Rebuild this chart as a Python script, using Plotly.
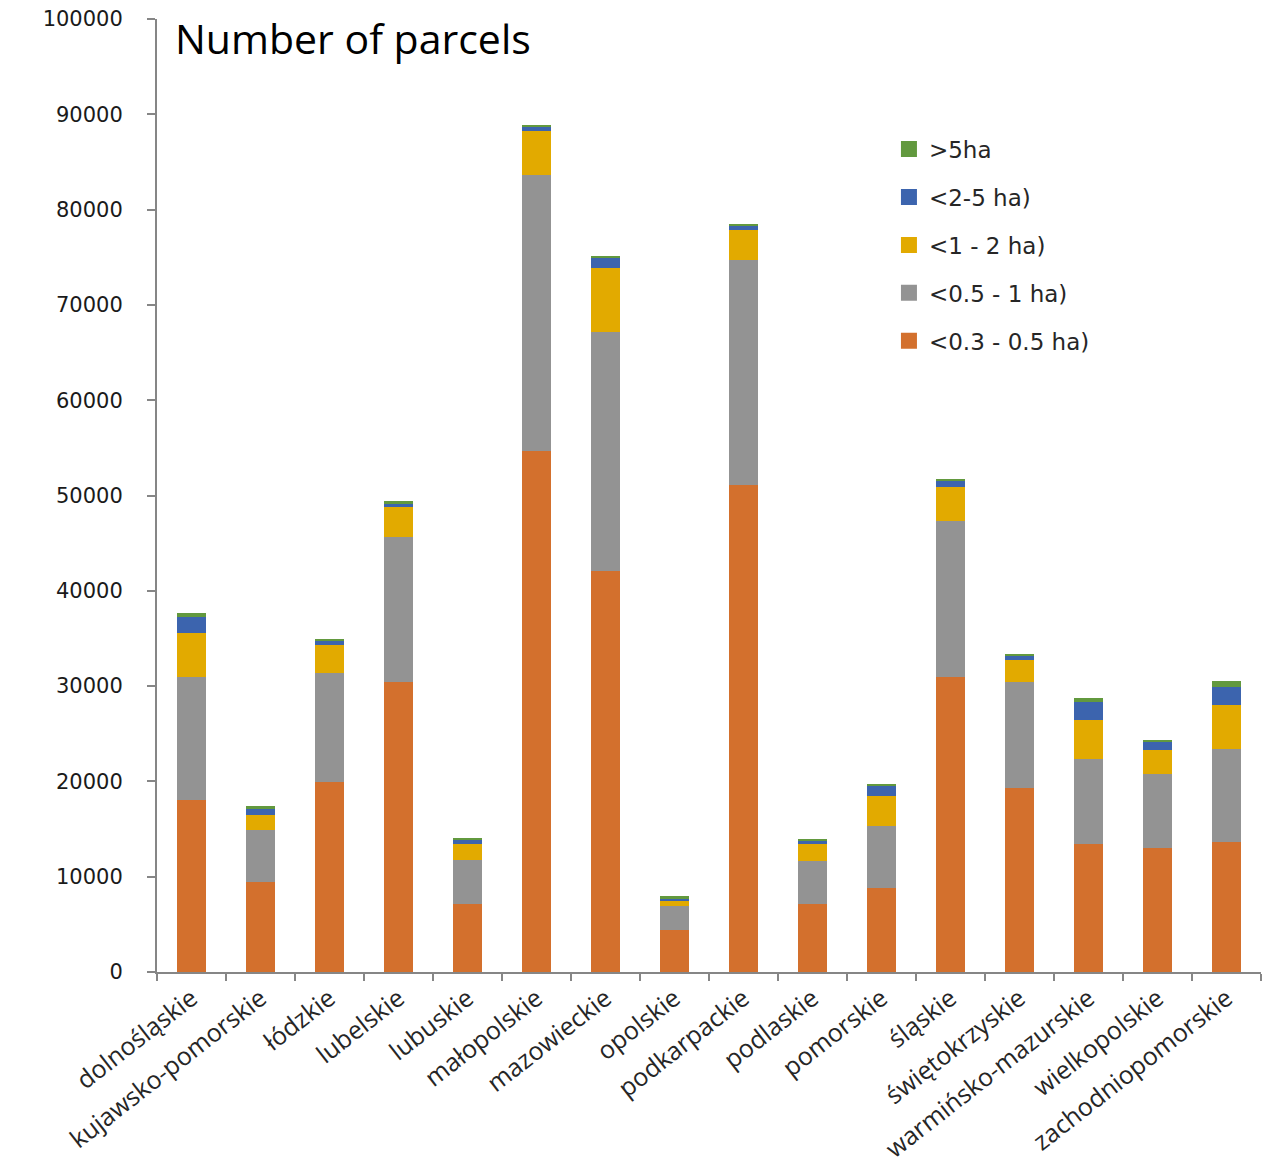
import plotly.graph_objects as go

regions = ["dolnośląskie", "kujawsko-pomorskie", "łódzkie", "lubelskie", "lubuskie",
           "małopolskie", "mazowieckie", "opolskie", "podkarpackie", "podlaskie",
           "pomorskie", "śląskie", "świętokrzyskie", "warmińsko-mazurskie",
           "wielkopolskie", "zachodniopomorskie"]

ha_03_05 = [18000, 9400, 19900, 30400, 7150, 54700, 42100, 4400, 51100, 7100,
            8800, 31000, 19300, 13400, 13000, 13600]
ha_05_1 = [13000, 5450, 11500, 15250, 4580, 28900, 25100, 2500, 23650, 4600,
           6500, 16300, 11100, 9000, 7750, 9850]
ha_1_2 = [4600, 1670, 2950, 3150, 1670, 4600, 6700, 650, 3100, 1700,
          3150, 3550, 2300, 4000, 2500, 4600]
ha_2_5 = [1650, 600, 420, 400, 500, 550, 1050, 200, 500, 400,
          1050, 700, 420, 1880, 950, 1900]
ha_5 = [450, 280, 200, 200, 160, 150, 200, 200, 150, 200,
        240, 180, 230, 420, 150, 630]

series = [
    ("<0.3 - 0.5 ha)", ha_03_05, "#D3702D"),
    ("<0.5 - 1 ha)", ha_05_1, "#939393"),
    ("<1 - 2 ha)", ha_1_2, "#E2AA00"),
    ("<2-5 ha)", ha_2_5, "#3C64AE"),
    (">5ha", ha_5, "#62993E"),
]

fig = go.Figure()
for name, vals, col in series:
    fig.add_trace(go.Bar(x=regions, y=vals, name=name, showlegend=False,
                         marker=dict(color=col, line=dict(width=0))))

# legend entries with larger square swatches
n = len(series)
for i, (name, vals, col) in enumerate(series):
    fig.add_trace(go.Scatter(x=[regions[0]], y=[None], mode="markers", name=name,
                             legendrank=n - i, legendgroup=name,
                             marker=dict(symbol="square", size=16, color=col,
                                         line=dict(width=0))))

fig.update_layout(
    barmode="stack",
    bargap=0.57,
    width=1268, height=1172,
    margin=dict(l=157, r=7, t=17, b=200),
    plot_bgcolor="white", paper_bgcolor="white",
    font=dict(family="DejaVu Sans", color="#262626"),
    showlegend=True,
    legend=dict(x=0.663, y=0.886, xanchor="left", yanchor="top",
                traceorder="grouped", tracegroupgap=15,
                font=dict(family="DejaVu Sans", size=23, color="#262626"),
                bgcolor="rgba(0,0,0,0)"),
    annotations=[dict(text="Number of parcels", x=0.0145, y=0.98,
                      xref="paper", yref="paper", xanchor="left", yanchor="middle",
                      showarrow=False,
                      font=dict(family="Open Sans", size=41, color="black"))],
)
fig.update_yaxes(range=[0, 100000], dtick=10000, tickformat="d",
                 showgrid=False, zeroline=False,
                 showline=True, linecolor="#868686", linewidth=2,
                 ticks="outside", ticklen=8, tickcolor="#868686", tickwidth=2,
                 ticklabelstandoff=20,
                 tickfont=dict(family="DejaVu Sans", size=21, color="#1a1a1a"))
fig.update_xaxes(range=[-0.5, len(regions) - 0.5],
                 showgrid=False, showline=True, linecolor="#868686", linewidth=2,
                 ticks="outside", ticklen=7, tickcolor="#868686", tickwidth=2,
                 tickson="boundaries", tickangle=-38,
                 tickfont=dict(family="Open Sans", size=25, color="#262626"))

fig.write_html("out.html")
